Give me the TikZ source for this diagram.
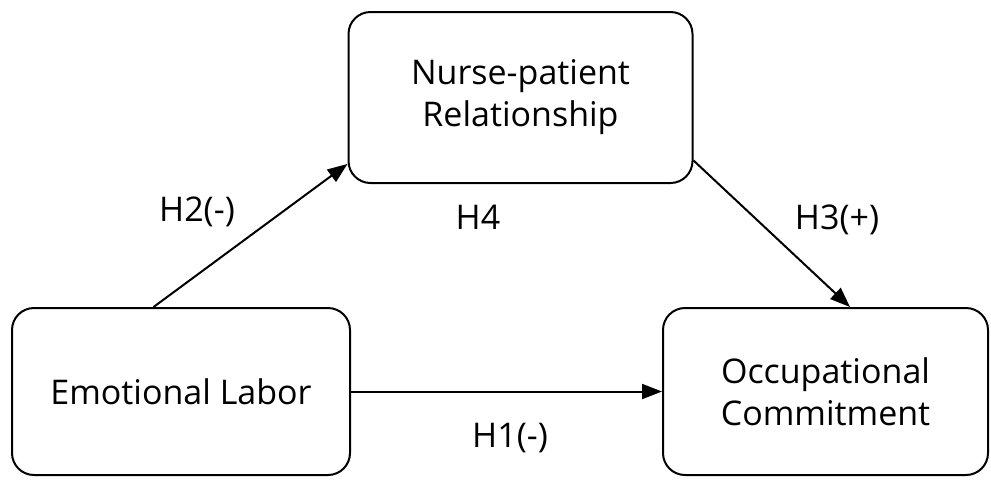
\documentclass[tikz,border=0pt]{standalone}
\usepackage{fontspec}
\setmainfont{Open Sans}
\usepackage{tikz}
\usetikzlibrary{arrows.meta, positioning, calc}
\tikzstyle{construct} = [rectangle, rounded corners=11pt, draw=black, line width=1pt, fill=white, align=center, font=\fontsize{17}{21}\selectfont]
\tikzstyle{hyp} = [font=\fontsize{17}{21}\selectfont]
\tikzstyle{arrow} = [line width=1pt, -{Triangle[length=10pt, width=7.5pt]}]

\begin{document}
\begin{tikzpicture}[x=0.5pt, y=-0.5pt]
    \useasboundingbox (0,0) rectangle (991,479);
    \node (nurse) [construct, minimum width=172pt, minimum height=85.5pt] at (520.5,97.5) {Nurse-patient\\Relationship};
    \node (emo) [construct, minimum width=169pt, minimum height=83.5pt] at (181,391.5) {Emotional Labor};
    \node (occ) [construct, minimum width=162.5pt, minimum height=83.5pt] at (825.5,391.5) {Occupational\\Commitment};

    % paths between the constructs
    \draw [arrow] (emo.108.5) -- (nurse.201);
    \draw [arrow] (nurse.340) -- ($(occ.north west)!0.575!(occ.north east)$);
    \draw [arrow] (emo.east) -- (occ.west);

    \node (h2) [hyp] at (197,212) {H2(-)};
    \node (h4) [hyp] at (478,217) {H4};
    \node (h3) [hyp] at (837,220) {H3(+)};
    \node (h1) [hyp] at (510,438) {H1(-)};
\end{tikzpicture}
\end{document}
